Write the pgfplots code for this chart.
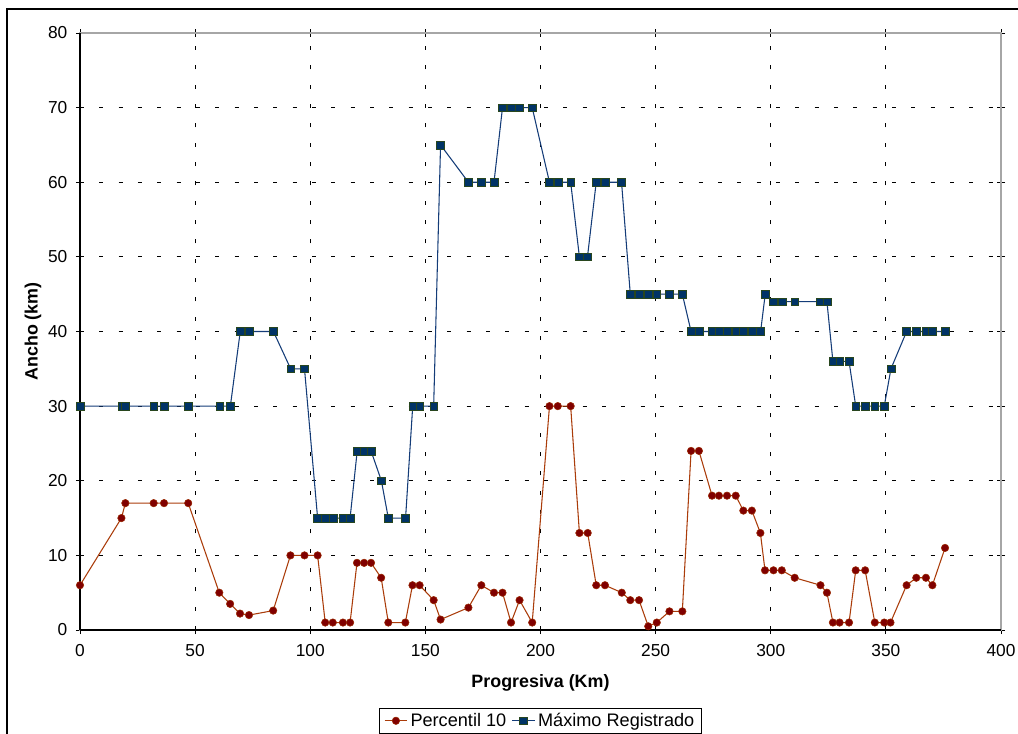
\documentclass[border=0pt]{standalone}
\usepackage{pgfplots}
\pgfplotsset{compat=1.18}
\usepackage{fontspec}
\setmainfont{Liberation Sans}

\definecolor{pline}{RGB}{170,60,10}
\definecolor{pfill}{RGB}{128,0,0}
\definecolor{pedge}{RGB}{153,40,0}
\definecolor{mline}{RGB}{20,60,120}
\definecolor{mfill}{RGB}{0,51,102}
\definecolor{medge}{RGB}{40,70,30}

\begin{document}
\begin{tikzpicture}[x=0.75pt,y=0.75pt]
% outer chart frame
\draw[black,line width=0.8pt] (-73,-200) rectangle (1100,621);
\begin{axis}[
  at={(0,0)}, anchor=south west,
  scale only axis,
  width=690.75pt, height=447.75pt,
  xmin=0, xmax=400, ymin=0, ymax=80,
  xtick={0,50,...,400}, ytick={0,10,...,80},
  tick align=center,
  major tick length=6pt,
  tick style={black, line width=0.6pt},
  axis line style={gray!70, line width=0.8pt},
  grid=major,
  major grid style={black, line width=0.6pt, dash pattern=on 3pt off 11.5pt},
  tick label style={font=\fontsize{13}{15}\selectfont},
  xticklabel style={yshift=-4pt},
  yticklabel style={xshift=-3pt},
  /pgf/number format/assume math mode=true,
  xlabel={\bfseries Progresiva (Km)},
  ylabel={\bfseries Ancho (km)},
  label style={font=\fontsize{13.4}{15}\selectfont},
  xlabel style={at={(axis description cs:0.5,-0.0888)}, anchor=center},
  ylabel style={at={(axis description cs:-0.051,0.5)}, anchor=center},
  legend style={at={(0.5,-0.1307)}, anchor=north, legend columns=2,
    draw=black, line width=0.6pt, font=\fontsize{13.6}{15.5}\selectfont,
    inner ysep=1.5pt, inner xsep=3.5pt,
    /tikz/every even column/.append style={column sep=2pt}},
  legend image post style={line width=0.8pt},
  clip=false,
]
\draw[black, line width=0.8pt] (axis cs:0,0) -- (axis cs:400,0);
\draw[black, line width=0.8pt] (axis cs:0,0) -- (axis cs:0,80);

% Percentil 10
\addplot[pline, line width=0.8pt, mark=*, mark size=2.8pt,
  mark options={fill=pfill, draw=pedge, line width=0.4pt}] coordinates {
(0,6) (18,15) (19.7,17) (32,17) (36.5,17) (47,17) (60.5,5) (65.2,3.5)
(69.5,2.2) (73.4,2) (83.9,2.6) (91.4,10) (97.5,10) (103.2,10) (106.5,1)
(109.8,1) (114.2,1) (117.3,1) (120.3,9) (123.4,9) (126.4,9) (130.8,7)
(133.9,1) (141.3,1) (144.4,6) (147.5,6) (153.6,4) (156.6,1.4) (168.7,3)
(174.3,6) (179.8,5) (183.5,5) (187.2,1) (190.9,4) (196.4,1) (203.9,30)
(207.5,30) (213.1,30) (216.9,13) (220.5,13) (224.2,6) (228,6) (235.3,5)
(239,4) (242.8,4) (246.8,0.5) (250.5,1) (256,2.5) (261.6,2.5) (265.4,24)
(268.8,24) (274.5,18) (277.5,18) (281,18) (284.8,18) (288.1,16) (291.8,16)
(295.5,13) (297.5,8) (301.2,8) (304.8,8) (310.4,7) (321.6,6) (324.4,5)
(327,1) (329.9,1) (334,1) (336.9,8) (341,8) (345.2,1) (349.3,1) (352,1)
(359,6) (363.2,7) (367.4,7) (370.2,6) (375.7,11)
};
\addlegendentry{Percentil 10}

% Maximo registrado
\addplot[mline, line width=0.8pt, mark=square*, mark size=2.9pt,
  mark options={fill=mfill, draw=medge, line width=0.4pt}] coordinates {
(0,30) (18.1,30) (19.8,30) (32,30) (36.5,30) (47,30) (60.7,30) (65.3,30)
(69.6,40) (73.4,40) (84,40) (91.5,35) (97.5,35) (103.2,15) (106.6,15)
(109.9,15) (114.2,15) (117.3,15) (120.4,24) (123.5,24) (126.4,24) (130.9,20)
(133.9,15) (141.4,15) (144.5,30) (147.6,30) (153.6,30) (156.6,65) (168.7,60)
(174.3,60) (179.8,60) (183.5,70) (187.3,70) (190.9,70) (196.4,70) (203.9,60)
(207.6,60) (213.1,60) (216.9,50) (220.4,50) (224.2,60) (228,60) (235.2,60)
(239,45) (242.8,45) (246.8,45) (250.5,45) (256,45) (261.6,45) (265.4,40)
(268.8,40) (274.5,40) (277.5,40) (281.1,40) (284.8,40) (288.2,40) (291.9,40)
(295.6,40) (297.6,45) (301.2,44) (304.9,44) (310.4,44) (321.6,44) (324.4,44)
(327,36) (330,36) (334,36) (336.9,30) (341,30) (345.2,30) (349.3,30)
(352.2,35) (359,40) (363.2,40) (367.4,40) (370.2,40) (375.7,40)
};
\addlegendentry{Máximo Registrado}
\end{axis}
\pgfresetboundingbox
\useasboundingbox (-80,-103) rectangle (938,630);
\end{tikzpicture}
\end{document}
